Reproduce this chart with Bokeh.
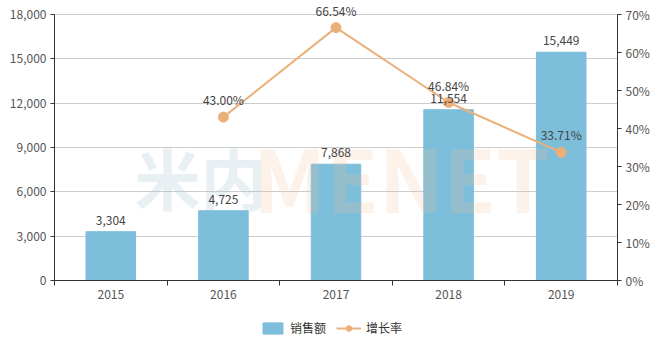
import numpy as np
from bokeh.plotting import figure
from bokeh.layouts import column
from bokeh.models import (Range1d, LinearAxis, FixedTicker, NumeralTickFormatter,
                          PrintfTickFormatter, ColumnDataSource, LabelSet, Legend,
                          LegendItem, Label)
from bokeh.core.properties import value
from bokeh.embed import file_html
from bokeh.resources import INLINE

years = ["2015", "2016", "2017", "2018", "2019"]
sales = [3304, 4725, 7868, 11554, 15449]
growth_years = ["2016", "2017", "2018", "2019"]
growth = [43.00, 66.54, 46.84, 33.71]
left_ticks = [0, 3000, 6000, 9000, 12000, 15000, 18000]
right_ticks = [0, 10, 20, 30, 40, 50, 60, 70]
series_names = ["销售额", "增长率"]

FONT = "Noto Sans CJK SC"
BAR = "#7dbedb"
LINE = "#ebb07a"
TXT = "#444444"

# frame extends 14px above the top tick so labels there are not clipped
FRAME_H, AXIS_H = 280, 266
ymax = left_ticks[-1] * FRAME_H / AXIS_H
pmax = right_ticks[-1] * FRAME_H / AXIS_H

xpos = [i + 0.5 for i in range(len(years))]
gx = [years.index(y) + 0.5 for y in growth_years]

p = figure(width=662, height=305, output_backend="svg", toolbar_location=None,
           x_range=Range1d(0, len(years)), y_range=Range1d(0, ymax),
           min_border_left=54, min_border_right=45, min_border_top=0,
           min_border_bottom=25)
p.outline_line_color = None
p.extra_y_ranges = {"pct": Range1d(0, pmax)}

xa = p.xaxis[0]
xa.ticker = FixedTicker(ticks=xpos, minor_ticks=list(range(len(years) + 1)))
xa.major_label_overrides = {x: y for x, y in zip(xpos, years)}
xa.major_tick_out = 0
xa.major_tick_in = 0
xa.minor_tick_out = 5
xa.minor_tick_in = 0
xa.minor_tick_line_color = "#333333"
xa.axis_line_color = "#333333"

ya = p.yaxis[0]
ya.ticker = FixedTicker(ticks=left_ticks)
ya.formatter = NumeralTickFormatter(format="0,0")
ya.bounds = (left_ticks[0], left_ticks[-1])
ya.minor_tick_line_color = None
ya.major_tick_out = 4
ya.major_tick_in = 0
ya.axis_line_color = "#333333"
ya.major_tick_line_color = "#333333"

ra = LinearAxis(y_range_name="pct", ticker=FixedTicker(ticks=right_ticks),
                formatter=PrintfTickFormatter(format="%d%%"),
                bounds=(right_ticks[0], right_ticks[-1]))
ra.minor_tick_line_color = None
ra.major_tick_out = 4
ra.major_tick_in = 0
ra.axis_line_color = "#333333"
ra.major_tick_line_color = "#333333"
p.add_layout(ra, "right")

for ax in [xa, ya, ra]:
    ax.major_label_text_font = FONT
    ax.major_label_text_font_size = "12px"
    ax.major_label_text_color = "#555555"
    ax.major_label_standoff = 4

p.xgrid.grid_line_color = None
p.ygrid.grid_line_color = "#cccccc"
p.ygrid.ticker = FixedTicker(ticks=left_ticks)

# watermark
p.add_layout(Label(x=0.71, y=7100, text="米内", text_font=FONT, text_font_size="66px",
                   text_font_style="bold", text_baseline="middle",
                   text_color="#a9c2d3", text_alpha=0.25))
p.add_layout(Label(x=1.76, y=7100, text="MENET", text_font=FONT,
                   text_font_size="86px", text_font_style="bold", text_baseline="middle",
                   text_color="#f7bf94", text_alpha=0.2))

bsrc = ColumnDataSource(dict(x=xpos, top=sales, lab=[f"{v:,}" for v in sales]))
p.vbar(x="x", top="top", width=0.44, source=bsrc, color=BAR)
p.add_layout(LabelSet(x="x", y="top", text="lab", source=bsrc, y_offset=7,
                      text_align="center", text_baseline="bottom",
                      text_font=value(FONT), text_font_size=value("12px"),
                      text_color=TXT))

lsrc = ColumnDataSource(dict(x=gx, y=growth, lab=[f"{v:.2f}%" for v in growth]))
p.line(x="x", y="y", source=lsrc, y_range_name="pct", line_color=LINE, line_width=2)
p.scatter(x="x", y="y", source=lsrc, y_range_name="pct", size=10,
          fill_color=LINE, line_color=LINE)
p.add_layout(LabelSet(x="x", y="y", text="lab", source=lsrc, y_range_name="pct",
                      y_offset=9, text_align="center", text_baseline="bottom",
                      text_font=value(FONT), text_font_size=value("12px"),
                      text_color=TXT))

# legend strip (separate small figure; same glyph styles, drawn off-range)
lf = figure(width=662, height=33, output_backend="svg", toolbar_location=None,
            x_range=Range1d(0, 1), y_range=Range1d(0, 1),
            min_border_left=0, min_border_right=0, min_border_top=0,
            min_border_bottom=0)
lf.axis.visible = False
lf.grid.visible = False
lf.outline_line_color = None
lb = lf.vbar(x=[-5], top=[-5], bottom=[-6], width=0.5, color=BAR)
ll = lf.line(x=[-5, -4], y=[-5, -5], line_color=LINE, line_width=2)
lp = lf.scatter(x=[-5], y=[-5], size=10, fill_color=LINE, line_color=LINE)
legend = Legend(items=[LegendItem(label=series_names[0], renderers=[lb]),
                       LegendItem(label=series_names[1], renderers=[ll, lp])],
                orientation="horizontal", location=(206, 2),
                label_text_font=FONT, label_text_font_size="12px",
                label_text_color="#333333", glyph_width=25, glyph_height=14,
                label_standoff=5, border_line_color=None, background_fill_alpha=0,
                spacing=10, padding=4, margin=0)
lf.add_layout(legend, "center")

open("out.html", "w").write(file_html(column(p, lf), INLINE))
